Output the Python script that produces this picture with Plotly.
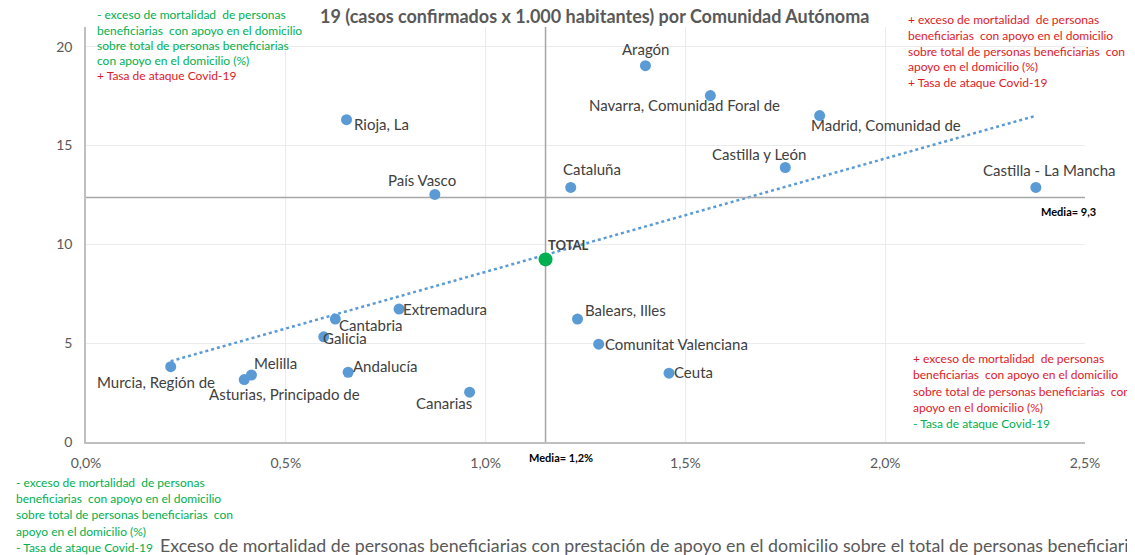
import numpy as np
import plotly.graph_objects as go

# ---------------- data ----------------
regions = ["Aragón", "Navarra, Comunidad Foral de", "Madrid, Comunidad de", "Rioja, La",
           "Castilla y León", "Castilla - La Mancha", "Cataluña", "País Vasco",
           "Extremadura", "Cantabria", "Balears, Illes", "Galicia", "Comunitat Valenciana",
           "Murcia, Región de", "Melilla", "Asturias, Principado de", "Andalucía",
           "Ceuta", "Canarias"]
exceso_pct = [1.400, 1.5625, 1.836, 0.652, 1.750, 2.377, 1.213, 0.873,
              0.7835, 0.624, 1.230, 0.595, 1.283, 0.212, 0.414, 0.396, 0.656,
              1.459, 0.960]
tasa = [19.04, 17.53, 16.52, 16.31, 13.89, 12.88, 12.88, 12.53,
        6.73, 6.22, 6.22, 5.32, 4.95, 3.81, 3.39, 3.16, 3.53,
        3.48, 2.52]
total_name = "TOTAL"
total_exceso_pct = 1.15
total_tasa = 9.24
media_x_pct = 1.15
media_y_line = 12.37
media_x_label = "Media= 1,2%"
media_y_label = "Media= 9,3"
x_ticks_pct = [0.0, 0.5, 1.0, 1.5, 2.0, 2.5]
y_ticks = [0, 5, 10, 15, 20]

title_text = "19 (casos confirmados x 1.000 habitantes) por Comunidad Autónoma"
xaxis_text = ("Exceso de mortalidad de personas beneficiarias con prestación de apoyo "
              "en el domicilio sobre el total de personas beneficiarias")

# label placement (pixel offsets from point: anchor, dx, dy(down))
label_pos = {
    "Aragón": ("center", 0, -17),
    "Navarra, Comunidad Foral de": ("center", -26, 9),
    "Madrid, Comunidad de": ("left", -11, 9),
    "Rioja, La": ("left", 5, 4),
    "Castilla y León": ("center", -26, -14),
    "Castilla - La Mancha": ("center", 14, -17),
    "Cataluña": ("center", 21, -18),
    "País Vasco": ("center", -13, -14),
    "Extremadura": ("left", 2, 0),
    "Cantabria": ("left", 2, 6),
    "Balears, Illes": ("left", 5, -9),
    "Galicia": ("left", -3, 1),
    "Comunitat Valenciana": ("left", 4, 0),
    "Murcia, Región de": ("center", -15, 15),
    "Melilla": ("center", 24, -12),
    "Asturias, Principado de": ("center", 40, 14),
    "Andalucía": ("left", 3, -6),
    "Ceuta": ("left", 3, -1),
    "Canarias": ("center", -26, 11),
}

x = np.array(exceso_pct) / 100.0
y = np.array(tasa)

FONT = "Lato"
BLUE = "#5B9BD5"
GREEN = "#00B050"
RED = "#E0191F"
GRAY = "#595959"

# plot area in page pixels; the page has an 8px body margin
OFF = 8
L, R, T, B = 86, 1085, 27, 442
W, H = 1135, 555

def paper(px, py):
    return (px - L) / (R - L), (B - py) / (B - T)

fig = go.Figure()

# trendline (least squares from data)
m, c = np.polyfit(x, y, 1)
xt = np.array([x.min(), x.max()])
fig.add_trace(go.Scatter(x=xt, y=m * xt + c, mode="lines",
                         line=dict(color=BLUE, width=2.5, dash="dot"),
                         hoverinfo="skip", showlegend=False))

# mean lines
fig.add_trace(go.Scatter(x=[media_x_pct / 100, media_x_pct / 100], y=[0, 21], mode="lines",
                         line=dict(color="#A6A6A6", width=1.5), hoverinfo="skip", showlegend=False))
fig.add_trace(go.Scatter(x=[0, 0.025], y=[media_y_line, media_y_line], mode="lines",
                         line=dict(color="#A6A6A6", width=1.5), hoverinfo="skip", showlegend=False))

fig.add_trace(go.Scatter(x=x, y=y, mode="markers", text=regions,
                         marker=dict(color=BLUE, size=11), showlegend=False))
fig.add_trace(go.Scatter(x=[total_exceso_pct / 100], y=[total_tasa], mode="markers",
                         marker=dict(color=GREEN, size=14), showlegend=False))

annotations = []
for name, xv, yv in zip(regions, x, y):
    anchor, dx, dy = label_pos[name]
    annotations.append(dict(x=xv, y=yv, xref="x", yref="y", text=name, showarrow=False,
                            xanchor=anchor, yanchor="middle", xshift=dx, yshift=-dy,
                            font=dict(family=FONT, size=15, color="#404040")))
annotations.append(dict(x=total_exceso_pct / 100, y=total_tasa, xref="x", yref="y",
                        text="<b>" + total_name + "</b>", showarrow=False, xanchor="left",
                        yanchor="middle", xshift=0, yshift=14,
                        font=dict(family=FONT, size=13, color="#404040")))

# mean labels
px_, py_ = paper(1039, 211)
annotations.append(dict(x=px_, y=py_, xref="paper", yref="paper", text="<b>" + media_y_label + "</b>",
                        showarrow=False, xanchor="left", yanchor="middle",
                        font=dict(family=FONT, size=11, color="#000000")))
px_, py_ = paper(561, 457)
annotations.append(dict(x=px_, y=py_, xref="paper", yref="paper", text="<b>" + media_x_label + "</b>",
                        showarrow=False, xanchor="center", yanchor="middle",
                        font=dict(family=FONT, size=11, color="#000000")))

# quadrant notes
def note(px, ys, lines):
    for yy, (txt, col) in zip(ys, lines):
        a, b = paper(px, yy)
        annotations.append(dict(x=a, y=b, xref="paper", yref="paper", text=txt, showarrow=False,
                                xanchor="left", yanchor="middle",
                                font=dict(family=FONT, size=12, color=col)))

note(95, [15, 30, 45, 60, 75], [
    ("- exceso de mortalidad  de personas", GREEN),
    ("beneficiarias  con apoyo en el domicilio", GREEN),
    ("sobre total de personas beneficiarias", GREEN),
    ("con apoyo en el domicilio (%)", GREEN),
    ("+ Tasa de ataque Covid-19", RED)])
note(906, [19, 35, 51, 67, 83], [
    ("+ exceso de mortalidad  de personas", RED),
    ("beneficiarias  con apoyo en el domicilio", RED),
    ("sobre total de personas beneficiarias  con", RED),
    ("apoyo en el domicilio (%)", RED),
    ("+ Tasa de ataque Covid-19", RED)])
note(911, [358, 374, 391, 407, 423], [
    ("+ exceso de mortalidad  de personas", RED),
    ("beneficiarias  con apoyo en el domicilio", RED),
    ("sobre total de personas beneficiarias  con", RED),
    ("apoyo en el domicilio (%)", RED),
    ("- Tasa de ataque Covid-19", GREEN)])
note(14, [482, 498, 515, 531, 547], [
    ("- exceso de mortalidad  de personas", GREEN),
    ("beneficiarias  con apoyo en el domicilio", GREEN),
    ("sobre total de personas beneficiarias  con", GREEN),
    ("apoyo en el domicilio (%)", GREEN),
    ("- Tasa de ataque Covid-19", GREEN)])

# title (visible line) and x-axis title
a, b = paper(594, 16)
annotations.append(dict(x=a, y=b, xref="paper", yref="paper", text="<b>" + title_text + "</b>",
                        showarrow=False, xanchor="center", yanchor="middle",
                        font=dict(family=FONT, size=18, color=GRAY)))
a, b = paper(158, 545)
annotations.append(dict(x=a, y=b, xref="paper", yref="paper", text=xaxis_text,
                        showarrow=False, xanchor="left", yanchor="middle",
                        font=dict(family=FONT, size=17.8, color=GRAY)))

fig.update_layout(
    width=W, height=H,
    margin=dict(l=L - OFF, r=W - R + OFF, t=T - OFF, b=H - B + OFF),
    paper_bgcolor="white", plot_bgcolor="white",
    separators=",.",
    showlegend=False,
    annotations=annotations,
    font=dict(family=FONT, color=GRAY),
    xaxis=dict(range=[0, 0.025], tickvals=[v / 100 for v in x_ticks_pct], tickformat=".1%",
               showgrid=True, gridcolor="#EBEBEB", gridwidth=1, zeroline=False,
               showline=True, linecolor="#BFBFBF", linewidth=1.5, ticklabelstandoff=7,
               tickfont=dict(family=FONT, size=14, color=GRAY), ticks=""),
    yaxis=dict(range=[0, 21], tickvals=y_ticks, showgrid=True, gridcolor="#EBEBEB",
               gridwidth=1, zeroline=False, showline=True, linecolor="#BFBFBF", linewidth=1.5,
               ticklabelstandoff=9,
               tickfont=dict(family=FONT, size=14, color=GRAY), ticks="", ticklen=0),
)

fig.write_html("out.html")
